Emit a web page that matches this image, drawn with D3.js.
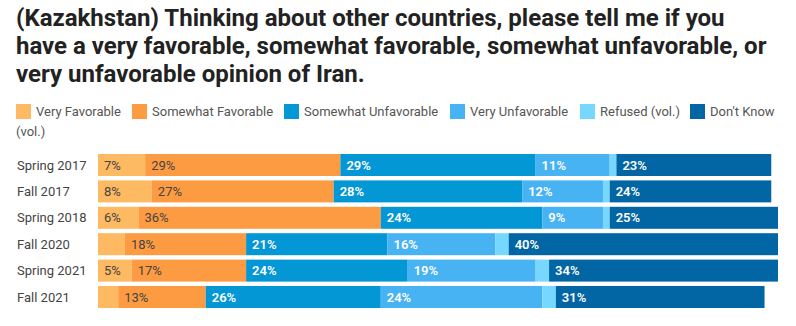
<!DOCTYPE html>
<html>
<head>
<meta charset="utf-8">
<script src="https://cdn.jsdelivr.net/npm/d3@7"></script>
<style>
  html, body { margin: 0; padding: 0; background: #fff; }
  svg { display: block; font-family: Roboto, "Noto Sans", sans-serif; }
</style>
</head>
<body>
<svg id="chart" width="796" height="326"></svg>
<script>
// survey waves, top to bottom
const waves = ["Spring 2017", "Fall 2017", "Spring 2018", "Fall 2020", "Spring 2021", "Fall 2021"];

const responses = ["Very Favorable", "Somewhat Favorable", "Somewhat Unfavorable", "Very Unfavorable", "Refused (vol.)", "Don't Know (vol.)"];
const colors    = ["#fdba62", "#fd9b42", "#0497d5", "#48b3f3", "#77d7ff", "#0366a4"];

// percentages per wave, in the order of `responses`
const veryFav     = [7, 8, 6, 4, 5, 3];
const somewhatFav = [29, 27, 36, 18, 17, 13];
const somewhatUnf = [29, 28, 24, 21, 24, 26];
const veryUnf     = [11, 12, 9, 16, 19, 24];
const refused     = [1, 1, 1, 2, 2, 2];
const dontKnow    = [23, 24, 25, 40, 34, 31];

const series = [veryFav, somewhatFav, somewhatUnf, veryUnf, refused, dontKnow];

const titleLines = [
  "(Kazakhstan) Thinking about other countries, please tell me if you",
  "have a very favorable, somewhat favorable, somewhat unfavorable, or",
  "very unfavorable opinion of Iran."
];

const svg = d3.select("#chart");

// ── title ──
svg.append("g")
  .selectAll("text")
  .data(titleLines)
  .join("text")
  .attr("x", 16)
  .attr("y", (d, i) => 26 + i * 28)
  .attr("font-size", 24)
  .attr("font-weight", 700)
  .attr("fill", "#222")
  .text((d) => d);

// ── legend (last label wraps onto a second line) ──
const legendX = [16, 132, 284, 450, 580, 690];
const legend = svg.append("g");
const item = legend.selectAll("g")
  .data(responses)
  .join("g")
  .attr("transform", (d, i) => `translate(${legendX[i]},104)`);
item.append("rect")
  .attr("width", 15).attr("height", 15)
  .attr("fill", (d, i) => colors[i]);
item.append("text")
  .attr("x", 20).attr("y", 12)
  .attr("font-size", 13)
  .attr("fill", "#555")
  .text((d) => d.replace(" (vol.)", "").replace(/^Refused$/, "Refused (vol.)"));
legend.append("text")
  .attr("x", 16).attr("y", 136)
  .attr("font-size", 13)
  .attr("fill", "#555")
  .text("(vol.)");

// ── bars ──
const margin = { left: 98, top: 154 };
const plotW = 680, plotH = 154;

const rows = waves.map((w, i) => {
  let acc = 0;
  return { wave: w, segs: series.map((s, k) => {
    const seg = { k, v: s[i], x0: acc, x1: acc + s[i] };
    acc += s[i];
    return seg;
  }) };
});

const maxTotal = d3.max(rows, (r) => r.segs[r.segs.length - 1].x1);
const x = d3.scaleLinear().domain([0, maxTotal]).range([margin.left, margin.left + plotW]);
const y = d3.scaleBand().domain(waves)
  .range([margin.top - 2.2, margin.top + plotH + 2.2])
  .paddingInner(0.167).paddingOuter(0.083);

// category labels
svg.append("g")
  .selectAll("text")
  .data(waves)
  .join("text")
  .attr("x", 17)
  .attr("y", (d) => y(d) + y.bandwidth() / 2)
  .attr("dy", "0.35em")
  .attr("font-size", 13)
  .attr("fill", "#444")
  .text((d) => d);

const row = svg.append("g")
  .selectAll("g")
  .data(rows)
  .join("g")
  .attr("transform", (d) => `translate(0,${y(d.wave)})`);

row.selectAll("rect")
  .data((d) => d.segs)
  .join("rect")
  .attr("x", (d) => x(d.x0))
  .attr("width", (d) => x(d.x1) - x(d.x0))
  .attr("height", y.bandwidth())
  .attr("fill", (d) => colors[d.k]);

// value labels, only where the segment is wide enough
row.selectAll("text")
  .data((d) => d.segs.filter((s) => s.v >= 5 && s.k !== 4))
  .join("text")
  .attr("x", (d) => x(d.x0) + 6)
  .attr("y", y.bandwidth() / 2)
  .attr("dy", "0.36em")
  .attr("font-size", 13)
  .attr("font-weight", (d) => d.k < 2 ? 400 : 600)
  .attr("fill", (d) => d.k < 2 ? "#444" : "#fff")
  .text((d) => `${d.v}%`);
</script>
</body>
</html>
